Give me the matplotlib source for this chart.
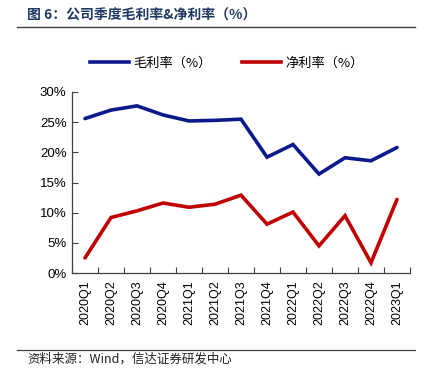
import matplotlib
matplotlib.use("Agg")
import matplotlib.pyplot as plt
from matplotlib.lines import Line2D
from matplotlib.ticker import FuncFormatter

plt.rcParams['font.family'] = ['Noto Sans CJK SC', 'DejaVu Sans']

# 数据
quarters = ["2020Q1", "2020Q2", "2020Q3", "2020Q4", "2021Q1", "2021Q2", "2021Q3",
            "2021Q4", "2022Q1", "2022Q2", "2022Q3", "2022Q4", "2023Q1"]
gross_margin = [25.6, 27.0, 27.7, 26.2, 25.2, 25.3, 25.5, 19.2, 21.3, 16.4, 19.1, 18.6, 20.8]
net_margin = [2.5, 9.2, 10.3, 11.6, 10.9, 11.4, 12.9, 8.1, 10.1, 4.5, 9.5, 1.7, 12.2]

blue = "#0A1A8C"
red = "#C00000"
axis_color = "#404040"

fig = plt.figure(figsize=(4.30, 3.86), dpi=100)
ax = fig.add_axes([72 / 430, 1 - 273 / 386, 338 / 430, 181 / 386])

x = range(len(quarters))
ax.plot(x, gross_margin, color=blue, lw=2.6, solid_capstyle='round', solid_joinstyle='miter')
ax.plot(x, net_margin, color=red, lw=2.6, solid_capstyle='round', solid_joinstyle='miter')

ax.set_xlim(-0.5, len(quarters) - 0.5)
ax.set_ylim(0, 30)
ax.set_yticks([0, 5, 10, 15, 20, 25, 30])
ax.yaxis.set_major_formatter(FuncFormatter(lambda v, p: f"{v:.0f}%"))

# x轴刻度在类别之间
ax.set_xticks([i - 0.5 for i in range(len(quarters) + 1)])
ax.set_xticklabels([])
ax.set_xticks(list(x), minor=True)
ax.set_xticklabels(quarters, minor=True, rotation=90, family='Liberation Sans', fontsize=9)
ax.tick_params(axis='x', which='minor', length=0, pad=5)
ax.tick_params(axis='x', which='major', direction='in', length=4, color=axis_color, width=0.8)
ax.tick_params(axis='y', direction='in', length=4, color=axis_color, width=0.8, pad=4)
for lab in ax.get_yticklabels():
    lab.set_family('Liberation Sans')
    lab.set_fontsize(9.5)

for s in ['top', 'right']:
    ax.spines[s].set_visible(False)
for s in ['left', 'bottom']:
    ax.spines[s].set_color(axis_color)
    ax.spines[s].set_linewidth(0.9)

# 图例
handles = [Line2D([], [], color=blue, lw=2.6), Line2D([], [], color=red, lw=2.6)]
fig.legend(handles, ["毛利率（%）", "净利率（%）"], loc='center', bbox_to_anchor=(0.527, 1 - 63 / 386),
           ncol=2, frameon=False, fontsize=9.5, handlelength=3.0, handletextpad=0.3, columnspacing=2.3)

# 标题与来源
fig.text(27 / 430, 1 - 16 / 386, "图 6：公司季度毛利率&净利率（%）", fontsize=10, fontweight='bold',
         color="#1F3864", va='center', ha='left')
fig.add_artist(Line2D([17 / 430, 415 / 430], [1 - 27 / 386, 1 - 27 / 386], color="#404040", lw=1.0))
fig.add_artist(Line2D([17 / 430, 415 / 430], [1 - 350 / 386, 1 - 350 / 386], color="#404040", lw=0.9))
fig.text(27 / 430, 1 - 359 / 386, "资料来源：Wind，信达证券研发中心", fontsize=9, fontstyle='italic',
         color="#222222", va='center', ha='left')

fig.savefig("out.png", dpi=100)
